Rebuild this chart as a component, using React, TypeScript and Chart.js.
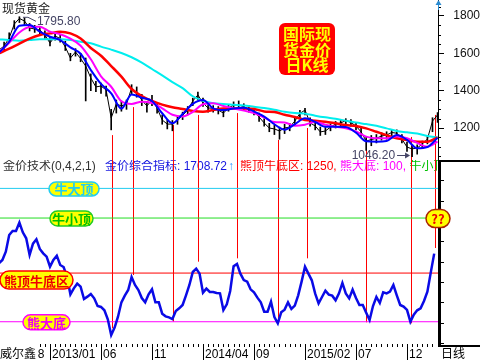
import React, { useEffect, useRef } from 'react';
import { Chart, registerables } from 'chart.js';

Chart.register(...registerables);

const SANS = '"Liberation Sans", Arial, "Noto Sans CJK SC", sans-serif';
const CJK = '"Noto Sans CJK SC", "Liberation Sans", sans-serif';

// x unit: months since 2012/08/01
const X_MIN = 0.098;
const X_MAX = 43.04;
const tickMonths = [0, 5, 10, 15, 20, 25, 30, 35, 40];
const tickLabels = ['2012/08', '2013/01', '06', '11', '2014/04', '09', '2015/02', '07', '12'];

// daily K-line, sampled every half month
const PRICE_STEP = 0.5;
const priceClose = [
  1618, 1639, 1682, 1757, 1787, 1773, 1736, 1730, 1725, 1698,
  1655, 1693, 1679, 1634, 1575, 1607, 1572, 1532, 1468, 1420,
  1425, 1404, 1254, 1329, 1318, 1329, 1414, 1387, 1350, 1318,
  1350, 1307, 1243, 1221, 1221, 1243, 1267, 1296, 1345, 1377,
  1334, 1307, 1306, 1296, 1280, 1307, 1323, 1323, 1314, 1302,
  1291, 1259, 1227, 1200, 1195, 1184, 1200, 1205, 1237, 1278,
  1296, 1227, 1211, 1179, 1184, 1205, 1221, 1227, 1240, 1229,
  1211, 1179, 1130, 1138, 1145, 1157, 1162, 1176, 1172, 1141,
  1098, 1088, 1093, 1114, 1141, 1237, 1270,
];
const priceHigh = [
  1640, 1660, 1710, 1775, 1796, 1790, 1760, 1750, 1740, 1720,
  1690, 1710, 1700, 1665, 1600, 1625, 1600, 1575, 1490, 1450,
  1440, 1425, 1300, 1350, 1345, 1350, 1432, 1420, 1380, 1340,
  1375, 1330, 1270, 1245, 1240, 1262, 1285, 1315, 1360, 1392,
  1360, 1325, 1320, 1315, 1300, 1325, 1340, 1345, 1330, 1320,
  1305, 1280, 1250, 1225, 1215, 1205, 1220, 1225, 1255, 1295,
  1305, 1255, 1230, 1205, 1210, 1222, 1235, 1240, 1250, 1245,
  1230, 1200, 1150, 1160, 1165, 1175, 1180, 1190, 1190, 1165,
  1125, 1110, 1110, 1130, 1155, 1255, 1282,
];
const priceLow = [
  1600, 1620, 1665, 1730, 1765, 1752, 1720, 1712, 1705, 1680,
  1640, 1670, 1660, 1615, 1560, 1585, 1555, 1345, 1400, 1395,
  1385, 1370, 1190, 1280, 1290, 1300, 1380, 1365, 1320, 1285,
  1320, 1280, 1220, 1195, 1185, 1220, 1245, 1270, 1320, 1350,
  1315, 1285, 1285, 1275, 1260, 1290, 1305, 1310, 1295, 1285,
  1270, 1235, 1210, 1180, 1165, 1140, 1170, 1185, 1215, 1255,
  1270, 1210, 1190, 1160, 1165, 1185, 1200, 1205, 1220, 1210,
  1190, 1155, 1080, 1105, 1120, 1135, 1140, 1155, 1150, 1120,
  1075, 1046, 1060, 1090, 1115, 1180, 1230,
];

// moving averages, sampled monthly
const MA_STEP = 1;
const maBlue = [
  1604, 1662, 1748, 1752, 1716, 1689, 1671, 1632, 1598, 1511, 1436, 1386, 1304, 1380, 1362,
  1345, 1279, 1225, 1275, 1329, 1350, 1305, 1296, 1305, 1309, 1288, 1261, 1220, 1191, 1220,
  1252, 1232, 1207, 1207, 1205, 1175, 1129, 1127, 1130, 1162, 1136, 1091, 1098, 1148,
];
const maMagenta = [
  1604, 1657, 1712, 1741, 1743, 1716, 1702, 1679, 1641, 1568, 1477, 1421, 1343, 1329, 1341,
  1334, 1305, 1271, 1262, 1286, 1327, 1332, 1318, 1305, 1293, 1280, 1257, 1232, 1230, 1212,
  1218, 1232, 1218, 1207, 1198, 1182, 1154, 1145, 1145, 1154, 1145, 1120, 1100, 1127,
];
const maRed = [
  1600, 1625, 1652, 1679, 1698, 1707, 1716, 1707, 1679, 1629, 1587, 1532, 1475, 1409, 1371,
  1345, 1325, 1311, 1302, 1291, 1287, 1296, 1304, 1305, 1305, 1302, 1289, 1286, 1271, 1259,
  1243, 1239, 1234, 1225, 1216, 1211, 1198, 1180, 1162, 1145, 1136, 1127, 1127, 1150,
];
const maCyan = [
  1675, 1671, 1668, 1671, 1675, 1675, 1675, 1671, 1662, 1654, 1636, 1620, 1602, 1579, 1550,
  1516, 1482, 1446, 1414, 1370, 1346, 1332, 1329, 1325, 1321, 1314, 1307, 1298, 1287, 1280,
  1277, 1266, 1257, 1250, 1239, 1229, 1221, 1212, 1198, 1184, 1177, 1170, 1157, 1150,
];

// 金价综合指标, sampled every third of a month
const IND_STEP = 1 / 3;
const indicator = [
  1480, 1559, 1756, 2149, 2244, 2244, 2441, 2212, 2071, 1677,
  1945, 2047, 1819, 1716, 1637, 1401, 1559, 1661, 1441, 1393,
  1165, 748, 890, 1000, 929, 638, 693, 756, 653, 472,
  449, 370, 157, -213, -39, 220, 559, 716, 850, 1157,
  968, 850, 661, 559, 748, 866, 559, 559, 291, 228,
  205, 165, 354, 417, 496, 724, 968, 1275, 1354, 1236,
  787, 882, 803, 803, 779, 771, 378, 512, 827, 1409,
  1464, 1236, 1086, 1047, 866, 795, 669, 559, 338, 338,
  575, 212, 63, 323, 386, 559, 401, 480, 724, 1047,
  1401, 1236, 1079, 764, 535, 685, 834, 740, 716, 606,
  771, 1016, 771, 653, 858, 661, 496, 496, 315, 142,
  472, 685, 543, 795, 771, 811, 968, 724, 496, 457,
  378, 102, 268, 370, 417, 590, 811, 1267, 1709,
];
const indicatorLast = '1708.72';

// reference levels of the indicator
const levelValues = [3250, 2550, 1250, 100];
const levelNames = ['牛大顶', '牛小顶', '熊顶牛底区', '熊大底'];
const levelColors = ['#22ccf0', '#22dd22', '#ff0000', '#ff00ff'];

// turning-point markers (month, price top, indicator bottom)
const signalMonths = [11.08, 13.09, 17.09, 19.48, 23.36, 27.32, 30.17, 36.01, 40.36, 42.79];
const signalPrice = [1162, 1312, 1216, 1270, 1280, 1136, 1200, 1136, 1152, 1270];
const signalIndicator = [-55, 1204, 102, 1519, 1598, 63, 1598, 87, 63, 1842];

const highMark = { month: 2.25, price: 1795.8, text: '1795.80' };
const lowMark = { month: 40.3, price: 1046.2, text: '1046.20' };

function pts(values: number[], step: number) {
  return values.map((v, i) => ({ x: i * step, y: v }));
}

function pill(ctx: CanvasRenderingContext2D, cx: number, cy: number, w: number, h: number, text: string, color: string, border: string) {
  ctx.save();
  ctx.beginPath();
  (ctx as any).roundRect(cx - w / 2, cy - h / 2, w, h, h / 2);
  ctx.fillStyle = '#ffff00';
  ctx.fill();
  ctx.lineWidth = 1.5;
  ctx.strokeStyle = border;
  ctx.stroke();
  ctx.fillStyle = color;
  ctx.font = `bold 13px ${CJK}`;
  ctx.textAlign = 'center';
  ctx.textBaseline = 'middle';
  ctx.fillText(text, cx, cy + 0.5);
  ctx.restore();
}

const overlay = {
  id: 'goldOverlay',
  beforeDatasetsDraw(chart: any) {
    const { ctx, chartArea, scales } = chart;
    const { x, y, y2 } = scales;
    // header line of the indicator panel
    ctx.save();
    ctx.beginPath();
    ctx.rect(0, y2.top, chartArea.right, 16);
    ctx.clip();
    ctx.font = `12px ${SANS}`;
    ctx.textBaseline = 'middle';
    ctx.textAlign = 'left';
    const hy = y2.top + 6.5;
    ctx.fillStyle = '#303030';
    ctx.fillText('金价技术(0,4,2,1)', 3, hy);
    ctx.fillStyle = '#1515e0';
    const t2 = '金价综合指标: ' + indicatorLast;
    ctx.fillText(t2, 105, hy);
    const w2 = ctx.measureText(t2).width;
    ctx.fillStyle = '#3399ff';
    ctx.fillText('↑', 105 + w2 + 1, hy);
    let cx = 240;
    const segs = [
      { t: levelNames[2] + ': ' + levelValues[2] + ', ', c: '#ff0000' },
      { t: levelNames[3] + ': ' + levelValues[3] + ', ', c: '#ff00ff' },
      { t: levelNames[1] + ': ' + levelValues[1], c: '#00c000' },
    ];
    for (const s of segs) {
      ctx.fillStyle = s.c;
      ctx.fillText(s.t, cx, hy);
      cx += ctx.measureText(s.t).width;
    }
    ctx.restore();

    // vertical turning-point lines
    ctx.save();
    ctx.strokeStyle = '#ff0000';
    ctx.lineWidth = 1;
    signalMonths.forEach((m, i) => {
      const px = Math.round(x.getPixelForValue(m)) + 0.5;
      const t = y.getPixelForValue(signalPrice[i]);
      const b = y2.getPixelForValue(signalIndicator[i]);
      ctx.beginPath();
      ctx.moveTo(px, t);
      ctx.lineTo(px, b);
      ctx.stroke();
    });
    ctx.restore();
  },
  afterDatasetsDraw(chart: any) {
    const { ctx, chartArea, scales } = chart;
    const { x, y, y2 } = scales;
    // level pills
    pill(ctx, 74, y2.getPixelForValue(levelValues[0]) + 0.5, 50, 14, levelNames[0], levelColors[0], levelColors[0]);
    pill(ctx, 71.5, y2.getPixelForValue(levelValues[1]) + 0.5, 43, 15, levelNames[1], '#00c000', '#22cc22');
    pill(ctx, 36.5, y2.getPixelForValue(levelValues[2]) + 7, 73, 18, levelNames[2], '#ee0000', '#ff0000');
    pill(ctx, 46.5, y2.getPixelForValue(levelValues[3]) + 0.5, 47, 15, levelNames[3], '#ee00ee', '#ff00ff');

    // high / low annotations
    ctx.save();
    ctx.font = `12px ${SANS}`;
    ctx.fillStyle = '#454565';
    ctx.strokeStyle = '#454565';
    ctx.lineWidth = 1;
    const hx = x.getPixelForValue(highMark.month);
    const hy = y.getPixelForValue(highMark.price);
    ctx.beginPath();
    ctx.moveTo(hx + 1, hy + 0.5);
    ctx.lineTo(hx + 6, hy + 0.5);
    ctx.lineTo(hx + 14, hy + 4.5);
    ctx.stroke();
    ctx.textBaseline = 'middle';
    ctx.textAlign = 'left';
    ctx.fillText(highMark.text, hx + 15, hy + 4.5);

    const lx = x.getPixelForValue(lowMark.month);
    const ly = y.getPixelForValue(lowMark.price) - 1.5;
    ctx.textAlign = 'right';
    ctx.fillText(lowMark.text, lx - 15, ly);
    ctx.beginPath();
    ctx.moveTo(lx - 13, Math.round(ly) + 0.5);
    ctx.lineTo(lx - 1, Math.round(ly) + 0.5);
    ctx.stroke();
    ctx.beginPath();
    ctx.moveTo(lx, Math.round(ly) + 0.5);
    ctx.lineTo(lx - 5, Math.round(ly) - 2.5);
    ctx.lineTo(lx - 5, Math.round(ly) + 3.5);
    ctx.closePath();
    ctx.fill();
    ctx.restore();

    // title box
    ctx.save();
    ctx.beginPath();
    (ctx as any).roundRect(279, 23, 56, 52, 6);
    ctx.fillStyle = '#ff0000';
    ctx.fill();
    ctx.fillStyle = '#ffff00';
    ctx.font = `bold 16px ${CJK}`;
    ctx.textAlign = 'center';
    ctx.textBaseline = 'middle';
    ctx.fillText('国际现', 307, 34);
    ctx.fillText('货金价', 307, 50);
    ctx.fillText('日K线', 307, 65);
    ctx.restore();

    // 现货黄金
    ctx.save();
    ctx.font = `12px ${CJK}`;
    ctx.fillStyle = '#202020';
    ctx.textBaseline = 'middle';
    ctx.fillText('现货黄金', 2, 8);
    ctx.restore();
  },
  afterDraw(chart: any) {
    const { ctx, chartArea, scales } = chart;
    const { x, y, y2 } = scales;
    const ax = chartArea.right;
    ctx.save();
    ctx.fillStyle = '#000';
    // price axis line
    ctx.fillRect(ax, 0, 1, y.bottom + 1);
    // minor ticks of price axis
    y.ticks.forEach((t: any) => {
      if (t.value % 200 !== 0) ctx.fillRect(ax + 1, Math.round(y.getPixelForValue(t.value)), 2, 1);
    });
    // indicator axis frame
    ctx.fillRect(ax, y2.top, 3, y2.bottom - y2.top + 4);
    ctx.fillRect(ax, y2.top, 480 - ax, 2);
    ctx.fillRect(ax, y2.bottom + 2, 480 - ax, 2);
    y2.ticks.forEach((t: any) => {
      if (t.value % 1000 !== 0) ctx.fillRect(ax + 3, Math.round(y2.getPixelForValue(t.value)), 3, 1);
    });
    // time axis ruler and label bars
    for (let m = 0; m <= X_MAX; m += 0.5) {
      const px = Math.round(x.getPixelForValue(m));
      if (px >= 0 && px < ax) ctx.fillRect(px, x.top + 1, 1, 3);
    }
    x.ticks.forEach((t: any) => {
      const px = Math.round(x.getPixelForValue(t.value));
      ctx.fillRect(px, x.top + 4, 1, 13);
    });
    // arrow on top of price axis
    ctx.fillStyle = '#2a8ad0';
    ctx.strokeStyle = '#2a8ad0';
    ctx.beginPath();
    ctx.moveTo(ax + 0.5, 10);
    ctx.lineTo(ax + 0.5, 2);
    ctx.stroke();
    ctx.beginPath();
    ctx.moveTo(ax + 0.5, 0);
    ctx.lineTo(ax - 2.5, 5);
    ctx.lineTo(ax + 3.5, 5);
    ctx.closePath();
    ctx.fill();
    // corner texts
    ctx.fillStyle = '#ffffff';
    ctx.fillRect(0, x.top + 1, 38, 360 - x.top);
    ctx.fillStyle = '#000';
    ctx.font = `12px ${CJK}`;
    ctx.textBaseline = 'middle';
    ctx.textAlign = 'left';
    ctx.fillText('威尔鑫', 0, 353);
    ctx.fillText('日线', ax + 3, 353);
    ctx.restore();

    // ?? pill over axis
    pill(ctx, ax, y2.getPixelForValue(levelValues[1]) + 0.5, 24, 18, '??', '#ee0000', '#aa2200');
  },
};

export default function App() {
  const ref = useRef<HTMLCanvasElement>(null);
  useEffect(() => {
    document.body.style.margin = '0';
    Chart.defaults.font.family = SANS;
    const maLine = (data: number[], color: string, order: number, width = 2) => ({
      type: 'line' as const,
      data: pts(data, MA_STEP),
      yAxisID: 'y',
      borderColor: color,
      borderWidth: width,
      pointRadius: 0,
      cubicInterpolationMode: 'monotone' as const,
      order,
    });
    const chart = new Chart(ref.current as HTMLCanvasElement, {
      type: 'line',
      data: {
        datasets: [
          maLine(maBlue, '#0000ff', 1),
          maLine(maMagenta, '#ff00ff', 2),
          maLine(maRed, '#ff0000', 3, 2.5),
          maLine(maCyan, '#00eeee', 4),
          {
            type: 'line',
            data: pts(priceClose, PRICE_STEP),
            yAxisID: 'y',
            borderColor: '#000',
            borderWidth: 1,
            pointRadius: 0,
            order: 5,
          },
          {
            type: 'bar',
            data: priceLow.map((l, i) => ({ x: i * PRICE_STEP, y: [l, priceHigh[i]] })) as any,
            yAxisID: 'y',
            backgroundColor: '#000',
            borderWidth: 0,
            barThickness: 1,
            grouped: false,
            order: 6,
          },
          {
            type: 'line',
            data: pts(indicator, IND_STEP),
            yAxisID: 'y2',
            borderColor: '#0a0ae6',
            borderWidth: 2.5,
            pointRadius: 0,
            order: 0,
          },
          ...levelValues.map((L, i) => ({
            type: 'line' as const,
            data: [{ x: X_MIN, y: L }, { x: X_MAX, y: L }],
            yAxisID: 'y2',
            borderColor: levelColors[i],
            borderWidth: 1,
            pointRadius: 0,
            order: 10,
          })),
        ] as any,
      },
      options: {
        animation: false,
        responsive: false,
        maintainAspectRatio: false,
        layout: { padding: 0 },
        plugins: { legend: { display: false }, tooltip: { enabled: false } },
        scales: {
          x: {
            type: 'linear',
            position: 'bottom',
            min: X_MIN,
            max: X_MAX,
            offset: false,
            grid: { display: false, drawTicks: false },
            border: { display: false },
            afterBuildTicks: (s: any) => {
              s.ticks = tickMonths.map((v) => ({ value: v }));
            },
            ticks: {
              autoSkip: false,
              maxRotation: 0,
              align: 'start',
              labelOffset: 2,
              padding: 4,
              color: '#000',
              font: { size: 12, family: SANS },
              callback: (_v: any, i: number) => tickLabels[i],
            },
            afterFit: (s: any) => {
              s.height = 17;
              s.paddingLeft = 0;
              s.paddingRight = 0;
            },
          },
          y: {
            type: 'linear',
            position: 'right',
            stack: 'panels',
            stackWeight: 160,
            min: 1028.6,
            max: 1885.7,
            border: { display: false },
            grid: {
              display: true,
              drawOnChartArea: false,
              drawTicks: true,
              tickLength: 6,
              tickColor: (c: any) => (c.tick && c.tick.value % 200 === 0 ? '#000' : 'rgba(0,0,0,0)'),
            },
            ticks: {
              stepSize: 50,
              includeBounds: false,
              autoSkip: false,
              crossAlign: 'far',
              padding: 6,
              color: '#111',
              font: { size: 12, family: SANS },
              callback: (v: any) => (v % 200 === 0 ? String(v) : ''),
            },
            afterFit: (s: any) => {
              s.width = 42;
              s.paddingTop = 0;
              s.paddingBottom = 0;
            },
          },
          y2: {
            type: 'linear',
            position: 'right',
            stack: 'panels',
            stackWeight: 183,
            min: -402,
            max: 3921,
            border: { display: false },
            grid: {
              display: true,
              drawOnChartArea: false,
              drawTicks: true,
              tickLength: 9,
              tickColor: (c: any) => (c.tick && c.tick.value % 1000 === 0 ? '#000' : 'rgba(0,0,0,0)'),
            },
            ticks: {
              stepSize: 500,
              includeBounds: false,
              autoSkip: false,
              crossAlign: 'far',
              padding: 3,
              color: '#111',
              font: { size: 12, family: SANS },
              callback: (v: any) => (v % 1000 === 0 ? String(v) : ''),
            },
            afterFit: (s: any) => {
              s.width = 42;
              s.paddingTop = 0;
              s.paddingBottom = 0;
            },
          },
        } as any,
      },
      plugins: [overlay],
    });
    return () => chart.destroy();
  }, []);
  return (
    <canvas
      ref={ref}
      width={480}
      height={360}
      style={{ display: 'block', width: 480, height: 360, position: 'absolute', left: 0, top: 0 }}
    />
  );
}
